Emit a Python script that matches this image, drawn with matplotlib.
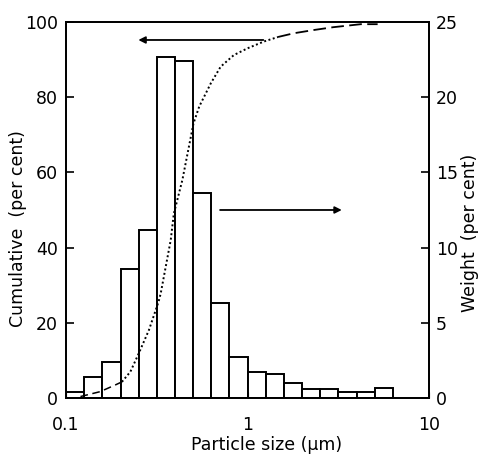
import numpy as np
import matplotlib
matplotlib.use("Agg")
import matplotlib.pyplot as plt

plt.rcParams['font.family'] = ['DejaVu Sans']

# Histogram (weight per cent) with log-spaced bin edges (um)
bin_edges = [0.1, 0.126, 0.158, 0.2, 0.251, 0.316, 0.398, 0.501, 0.631, 0.794,
             1.0, 1.26, 1.58, 2.0, 2.51, 3.16, 3.98, 5.01, 6.31]
weight_pct = [0.38, 1.4, 2.37, 8.56, 11.2, 22.65, 22.4, 13.6, 6.3, 2.75,
              1.75, 1.58, 0.98, 0.58, 0.58, 0.42, 0.42, 0.64]

# Cumulative curve (per cent)
cum_x = [0.12, 0.154, 0.187, 0.203, 0.226, 0.252, 0.286, 0.323, 0.332, 0.377,
         0.392, 0.437, 0.503, 0.541, 0.627, 0.71, 0.84, 1.0, 1.23, 1.47,
         1.8, 2.35, 2.96, 4.2, 5.2]
cum_y = [0.4, 1.7, 3.5, 4.3, 7.0, 12.0, 18.1, 25.6, 27.8, 42.0,
         49.0, 58.0, 73.0, 77.5, 83.7, 88.1, 91.2, 93.0, 94.8, 96.0,
         97.0, 97.9, 98.6, 99.4, 99.4]

x_ticks = [0.1, 1, 10]
x_ticklabels = ['0.1', '1', '10']
left_ticks = [0, 20, 40, 60, 80, 100]
right_ticks = [0, 5, 10, 15, 20, 25]

fig = plt.figure(figsize=(4.79, 4.57), dpi=100)
ax = fig.add_axes([0.138, 0.129, 0.758, 0.823])
ax2 = ax.twinx()

edges = np.array(bin_edges)
ax2.bar(edges[:-1], weight_pct, width=np.diff(edges), align='edge',
        facecolor='white', edgecolor='black', linewidth=1.4)

ax.set_zorder(ax2.get_zorder() + 1)
ax.patch.set_visible(False)

cx = np.array(cum_x)
cy = np.array(cum_y)
low = cx <= 0.203
mid = (cx >= 0.203) & (cx <= 1.47)
high = cx >= 1.47
ax.plot(cx[low], cy[low], color='black', lw=1.1, linestyle=(0, (5, 3)))
ax.plot(cx[mid], cy[mid], color='black', lw=1.4, linestyle=(0, (1, 1.3)))
ax.plot(cx[high], cy[high], color='black', lw=1.3, linestyle=(0, (7, 3)))

for a in (ax, ax2):
    a.set_xscale('log')
    a.set_xlim(0.1, 10)
    for s in a.spines.values():
        s.set_linewidth(1.3)
ax.set_ylim(0, 100)
ax2.set_ylim(0, 25)

ax.set_xticks(x_ticks)
ax.set_xticklabels(x_ticklabels)
ax.xaxis.set_minor_locator(matplotlib.ticker.NullLocator())
ax.set_yticks(left_ticks)
ax2.set_yticks(right_ticks)

ax.tick_params(axis='x', direction='in', length=4, pad=13, labelsize=12.5)
ax.tick_params(axis='y', direction='in', length=6, pad=6, labelsize=12.5, width=1.2)
ax2.tick_params(axis='y', direction='in', length=6, pad=5, labelsize=12.5, width=1.2)

ax.set_xlabel('Particle size (μm)', fontsize=12.5)
ax.xaxis.set_label_coords(0.553, -0.102)
ax.set_ylabel('Cumulative  (per cent)', fontsize=12.5)
ax.yaxis.set_label_coords(-0.108, 0.45)
ax2.set_ylabel('Weight  (per cent)', fontsize=12.5, rotation=90)
ax2.yaxis.set_label_coords(1.088, 0.44)

ax.annotate('', xy=(0.25, 95.2), xytext=(1.22, 95.2),
            arrowprops=dict(arrowstyle='-|>', color='black', lw=1.3,
                            mutation_scale=10, shrinkA=0, shrinkB=0))
ax2.annotate('', xy=(3.3, 12.5), xytext=(0.705, 12.5),
             arrowprops=dict(arrowstyle='-|>', color='black', lw=1.3,
                             mutation_scale=10, shrinkA=0, shrinkB=0))

fig.savefig('out.png', dpi=100)
